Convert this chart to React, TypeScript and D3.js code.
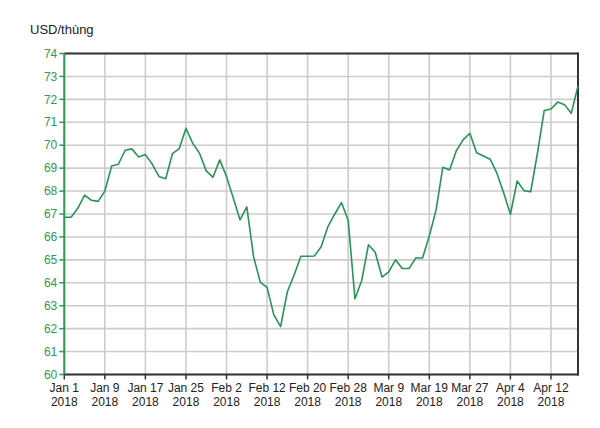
import React from "react";
import * as d3 from "d3";

const prices: number[] = [
  66.86, 66.86, 67.25, 67.82, 67.6, 67.55, 68.0, 69.09, 69.17, 69.78,
  69.84, 69.49, 69.59, 69.18, 68.64, 68.54, 69.63, 69.85, 70.74, 70.08,
  69.65, 68.88, 68.6, 69.36, 68.63, 67.7, 66.74, 67.31, 65.14, 64.02,
  63.8, 62.6, 62.09, 63.61, 64.34, 65.16, 65.16, 65.17, 65.57, 66.45,
  66.99, 67.5, 66.73, 63.3, 64.1, 65.66, 65.33, 64.25, 64.48, 65.0,
  64.62, 64.62, 65.08, 65.08, 66.04, 67.17, 69.04, 68.92, 69.76, 70.23,
  70.52, 69.67, 69.53, 69.39, 68.78, 67.93, 66.99, 68.44, 68.02, 67.97,
  69.65, 71.51, 71.58, 71.88, 71.77, 71.39, 72.58,
];

const tickIndices: number[] = [0, 6, 12, 18, 24, 30, 36, 42, 48, 54, 60, 66, 72];
const tickDates: string[] = [
  "Jan 1", "Jan 9", "Jan 17", "Jan 25", "Feb 2", "Feb 12", "Feb 20",
  "Feb 28", "Mar 9", "Mar 19", "Mar 27", "Apr 4", "Apr 12",
];
const tickYear = "2018";
const yTicks: number[] = d3.range(60, 75, 1);
const unitLabel = "USD/thùng";

const W = 600;
const H = 428;
const left = 64.3;
const right = 578;
const top = 53.5;
const bottom = 374.5;

export default function App() {
  const x = d3.scaleLinear().domain([0, prices.length - 1]).range([left, right]);
  const y = d3.scaleLinear().domain([60, 74]).range([bottom, top]);
  const line = d3
    .line<number>()
    .x((_, i) => x(i))
    .y((d) => y(d));

  const green = "#2e9a52";
  const font = "'Liberation Sans', Arial, sans-serif";

  return (
    <svg
      width={W}
      height={H}
      style={{ position: "absolute", left: 0, top: 0, background: "#fff" }}
      fontFamily={font}
    >
      <rect x={0} y={0} width={W} height={H} fill="#fff" />
      {/* horizontal grid */}
      {yTicks.map((v) => (
        <line
          key={"hg" + v}
          x1={left}
          x2={right}
          y1={y(v)}
          y2={y(v)}
          stroke="#cccccc"
          strokeWidth={1.6}
        />
      ))}
      {/* vertical grid */}
      {tickIndices.map((i) => (
        <line
          key={"vg" + i}
          x1={x(i)}
          x2={x(i)}
          y1={top}
          y2={bottom}
          stroke="#cccccc"
          strokeWidth={1.6}
        />
      ))}
      {/* frame */}
      <line x1={left} x2={right} y1={top} y2={top} stroke="#333" strokeWidth={2} />
      <line x1={right} x2={right} y1={top - 1} y2={bottom + 1} stroke="#333" strokeWidth={2} />
      <line x1={left} x2={right + 1} y1={bottom} y2={bottom} stroke="#333" strokeWidth={2} />
      {/* y axis */}
      <line x1={left} x2={left} y1={top} y2={bottom} stroke={green} strokeWidth={2} />
      {yTicks.map((v) => (
        <g key={"yt" + v}>
          <line x1={left - 5} x2={left} y1={y(v)} y2={y(v)} stroke={green} strokeWidth={1.5} />
          <text
            x={left - 7}
            y={y(v)}
            dy="0.35em"
            textAnchor="end"
            fontSize={12}
            fill={green}
          >
            {v}
          </text>
        </g>
      ))}
      {/* x ticks */}
      {tickIndices.map((i, k) => (
        <g key={"xt" + i}>
          <line x1={x(i)} x2={x(i)} y1={bottom} y2={bottom + 5} stroke="#333" strokeWidth={1.5} />
          <text x={x(i)} y={392} textAnchor="middle" fontSize={12} fill="#222">
            {tickDates[k]}
          </text>
          <text x={x(i)} y={406} textAnchor="middle" fontSize={12} fill="#222">
            {tickYear}
          </text>
        </g>
      ))}
      {/* unit label */}
      <text x={30} y={34} fontSize={13} fill="#222">
        {unitLabel}
      </text>
      {/* data line */}
      <path
        d={line(prices) || ""}
        fill="none"
        stroke="#2a9356"
        strokeWidth={1.6}
        strokeLinejoin="round"
      />
    </svg>
  );
}
